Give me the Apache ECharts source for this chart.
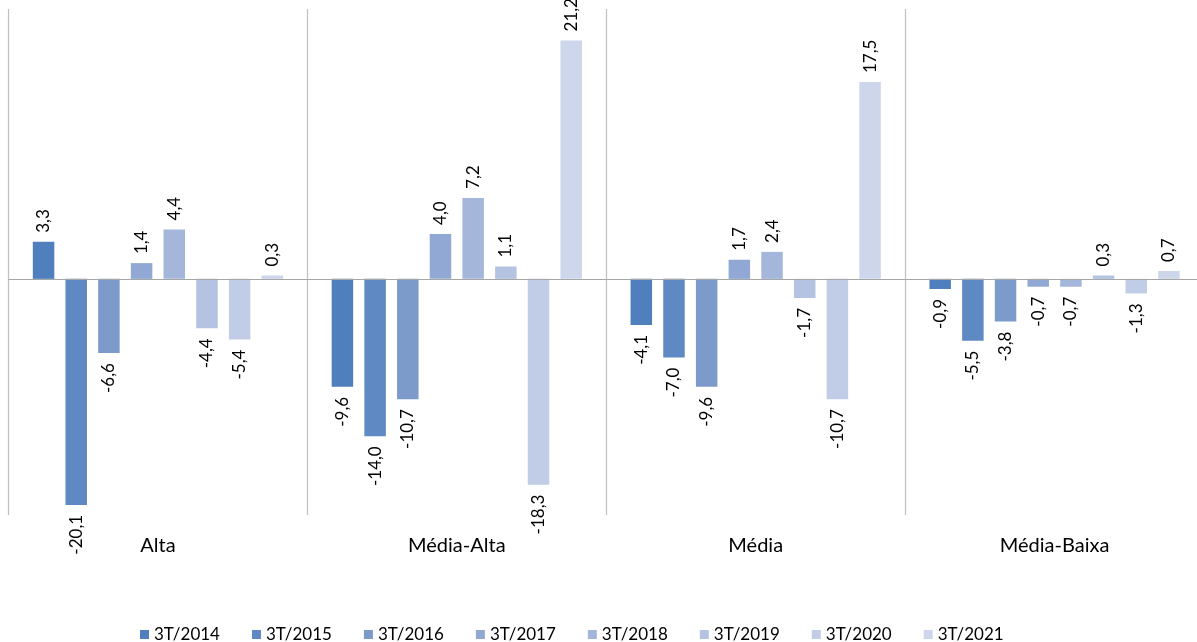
<!DOCTYPE html>
<html>
<head>
<meta charset="utf-8">
<script src="https://cdn.jsdelivr.net/npm/echarts@6/dist/echarts.min.js"></script>
<style>
html,body{margin:0;padding:0;background:#fff;}
#chart{width:1197px;height:642px;}
</style>
</head>
<body>
<div id="chart"></div>
<script>
const categories = ['Alta', 'Média-Alta', 'Média', 'Média-Baixa'];
const seriesNames = ['3T/2014', '3T/2015', '3T/2016', '3T/2017', '3T/2018', '3T/2019', '3T/2020', '3T/2021'];
const s2014 = [3.3, -9.6, -4.1, -0.9];
const s2015 = [-20.1, -14.0, -7.0, -5.5];
const s2016 = [-6.6, -10.7, -9.6, -3.8];
const s2017 = [1.4, 4.0, 1.7, -0.7];
const s2018 = [4.4, 7.2, 2.4, -0.7];
const s2019 = [-4.4, 1.1, -1.7, 0.3];
const s2020 = [-5.4, -18.3, -10.7, -1.3];
const s2021 = [0.3, 21.2, 17.5, 0.7];
const seriesValues = [s2014, s2015, s2016, s2017, s2018, s2019, s2020, s2021];
const colors = ['#4F7FBC', '#5F89C3', '#7C9BCB', '#90A8D3', '#A4B7DB', '#B4C3E1', '#C1CDE6', '#CDD6EA'];

const FONT = 'Lato';

function fmt(v) { return v.toFixed(1).replace('.', ','); }

const series = seriesValues.map((vals, i) => {
  const s = {
    name: seriesNames[i],
    type: 'bar',
    barWidth: 21.5,
    barGap: '52%',
    itemStyle: { color: colors[i] },
    data: vals.map(v => ({
      value: v,
      label: {
        show: true,
        rotate: 90,
        position: v >= 0 ? 'top' : 'bottom',
        align: v >= 0 ? 'left' : 'right',
        verticalAlign: 'middle',
        distance: v >= 0 ? 9 : 10,
        formatter: p => fmt(p.value),
        fontFamily: FONT,
        fontSize: 17,
        color: '#000'
      }
    }))
  };
  if (i === 0) {
    s.markLine = {
      silent: true,
      symbol: 'none',
      animation: false,
      label: { show: false },
      lineStyle: { color: '#A6A6A6', type: 'solid', width: 1.2 },
      data: [{ yAxis: 0 }]
    };
  }
  return s;
});

const chart = echarts.init(document.getElementById('chart'), null, { renderer: 'canvas' });
chart.setOption({
  animation: false,
  color: colors,
  grid: { left: 8.5, top: 9, width: 1195.5, height: 506, containLabel: false, outerBoundsMode: 'none' },
  legend: {
    data: seriesNames,
    left: 135,
    top: 621,
    icon: 'rect',
    itemWidth: 9,
    itemHeight: 9,
    itemGap: 32,
    textStyle: { fontFamily: FONT, fontSize: 17, color: '#000' }
  },
  xAxis: {
    type: 'category',
    data: categories,
    axisLine: { show: false },
    axisTick: { show: false },
    axisLabel: { fontFamily: FONT, fontSize: 20, color: '#000', margin: 21 },
    splitLine: { show: true, showMinLine: true, showMaxLine: true, lineStyle: { color: '#BFBFBF', width: 1.2 } }
  },
  yAxis: {
    type: 'value',
    min: -21,
    max: 24,
    show: false
  },
  series: series
});
</script>
</body>
</html>
